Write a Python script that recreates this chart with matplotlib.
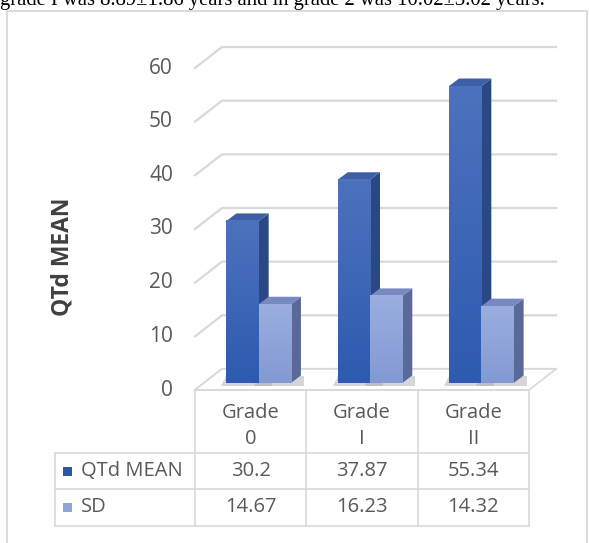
import matplotlib.pyplot as plt
import numpy as np
from matplotlib.patches import Polygon, Rectangle
from matplotlib.colors import LinearSegmentedColormap

plt.rcParams['font.family'] = ['Open Sans', 'DejaVu Sans']

# data
grades = ["Grade\n0", "Grade\nI", "Grade\nII"]
qtd_mean = [30.2, 37.87, 55.34]
sd = [14.67, 16.23, 14.32]
qtd_labels = ["30.2", "37.87", "55.34"]
sd_labels = ["14.67", "16.23", "14.32"]
series_names = ["QTd MEAN", "SD"]
yticks = [0, 10, 20, 30, 40, 50, 60]
note = "grade I was 8.89\u00b11.86 years and in grade 2 was 10.02\u00b13.02 years."

W, H = 589, 543
fig = plt.figure(figsize=(W / 100, H / 100), dpi=100)

# main axes: x -0.5..2.5, y 0..60 (front plane of the 3d box)
ax = fig.add_axes([195 / W, (H - 390) / H, 334 / W, 322 / H])
ax.set_xlim(-0.5, 2.5)
ax.set_ylim(0, 60)
ax.axis('off')

PX_X = 334 / 3.0     # pixels per category
PX_Y = 322 / 60.0    # pixels per unit


def dx(px):
    return px / PX_X


def dy(px):
    return px / PX_Y


grid_c = "#D9D9D9"
text_c = "#595959"

# back wall + side wall grid
DX, DY = dx(27), dy(21)
for t in yticks:
    ax.plot([-0.5, -0.5 + DX, 2.5 + DX], [t, t + DY, t + DY],
            color=grid_c, lw=1.6, clip_on=False, zorder=1)
    ax.text(-0.5 - dx(22), t, str(t), ha='right', va='center',
            fontsize=15, color=text_c)

# floor
floor = Polygon([[-0.5, 0], [2.5, 0], [2.5 + DX, DY], [-0.5 + DX, DY]],
                closed=True, facecolor="white", edgecolor=grid_c, lw=1.2,
                clip_on=False, zorder=2)
ax.add_patch(floor)

# bars
OX, OY = dx(8), dy(7)        # bar plane offset
SX, SY = dx(10), dy(7.5)     # bar depth
bw = 0.29

styles = [
    dict(top="#4D72BD", bottom="#2D5BB0", side="#2A4884", cap="#3E5FA6", key="#2E56A6"),
    dict(top="#9AAEDF", bottom="#8399D2", side="#5A6997", cap="#7888C0", key="#8FA5D9"),
]


def bar3d(xc, h, st, z):
    x0 = xc - bw / 2 + OX
    x1 = xc + bw / 2 + OX
    y0 = OY
    y1 = OY + h
    # shadow on the floor
    sh = Polygon([[x0 - dx(5), y0 - dy(3)], [x1 + SX + dx(3), y0 - dy(3)],
                  [x1 + SX + dx(3), y0 + SY], [x0, y0 + SY]],
                 closed=True, facecolor="#9A9A9A", alpha=0.4, lw=0,
                 zorder=z - 0.5, clip_on=False)
    ax.add_patch(sh)
    side = Polygon([[x1, y0], [x1 + SX, y0 + SY], [x1 + SX, y1 + SY], [x1, y1]],
                   closed=True, facecolor=st["side"], lw=0, zorder=z, clip_on=False)
    cap = Polygon([[x0, y1], [x1, y1], [x1 + SX, y1 + SY], [x0 + SX, y1 + SY]],
                  closed=True, facecolor=st["cap"], lw=0, zorder=z, clip_on=False)
    ax.add_patch(side)
    ax.add_patch(cap)
    front = Rectangle((x0, y0), x1 - x0, h, facecolor=st["bottom"], lw=0,
                      zorder=z, clip_on=False)
    ax.add_patch(front)
    cmap = LinearSegmentedColormap.from_list("g", [st["bottom"], st["top"]])
    grad = np.linspace(0, 1, 64).reshape(-1, 1)
    im = ax.imshow(grad, extent=[x0, x1, y0, y1], origin='lower', cmap=cmap,
                   aspect='auto', zorder=z + 0.1, clip_on=False)
    im.set_clip_path(front)


for i in range(len(grades)):
    bar3d(i - bw / 2, qtd_mean[i], styles[0], 5 + i)
    bar3d(i + bw / 2, sd[i], styles[1], 5.3 + i)

ax.set_xlim(-0.5, 2.5)
ax.set_ylim(0, 60)

# data table
def py(p):
    return (390 - p) / PX_Y


leg_left = -0.5 - dx(195 - 55)
rows = [390, 453, 489, 526]
for k, r in enumerate(rows):
    xs = -0.5 if k == 0 else leg_left
    ax.plot([xs, 2.5], [py(r), py(r)], color=grid_c, lw=1.2, clip_on=False, zorder=3)
for xv in [-0.5, 0.5, 1.5, 2.5]:
    ax.plot([xv, xv], [py(390), py(526)], color=grid_c, lw=1.2, clip_on=False, zorder=3)
ax.plot([leg_left, leg_left], [py(453), py(526)], color=grid_c, lw=1.2,
        clip_on=False, zorder=3)

for i, g in enumerate(grades):
    ax.text(i, py(426), g, ha='center', va='center', fontsize=14.5,
            color=text_c, linespacing=1.35)
    ax.text(i, py(471), qtd_labels[i], ha='center', va='center',
            fontsize=14.5, color=text_c)
    ax.text(i, py(507), sd_labels[i], ha='center', va='center',
            fontsize=14.5, color=text_c)

for k, (name, rc) in enumerate(zip(series_names, [471, 507])):
    ax.add_patch(Rectangle((leg_left + dx(8), py(rc + 4.5)), dx(9), dy(9),
                           facecolor=styles[k]["key"], lw=0, clip_on=False))
    ax.text(leg_left + dx(26), py(rc), name, ha='left', va='center',
            fontsize=14.5, color=text_c)

# axis title
fig.text(62 / W, (H - 257) / H, "QTd MEAN", rotation=90, ha='center',
         va='center', fontsize=16.5, fontweight='bold', color="#404040")

# outer frame
fig.patches.append(Rectangle((7 / W, -0.05), 580 / W, (H - 11) / H + 0.05,
                             transform=fig.transFigure, fill=False,
                             edgecolor="#D4D4D4", lw=1.2))

# caption line from the page above, cut by the image top as in the source
cap_txt = fig.text(0 / W, (H - 5) / H, note, ha='left', va='baseline',
                   fontsize=13, family='Liberation Serif', color="black")
fig.canvas.draw()
w = cap_txt.get_window_extent().width
cap_txt.set_fontsize(13 * 543 / w)

fig.savefig("out.png", dpi=100)
